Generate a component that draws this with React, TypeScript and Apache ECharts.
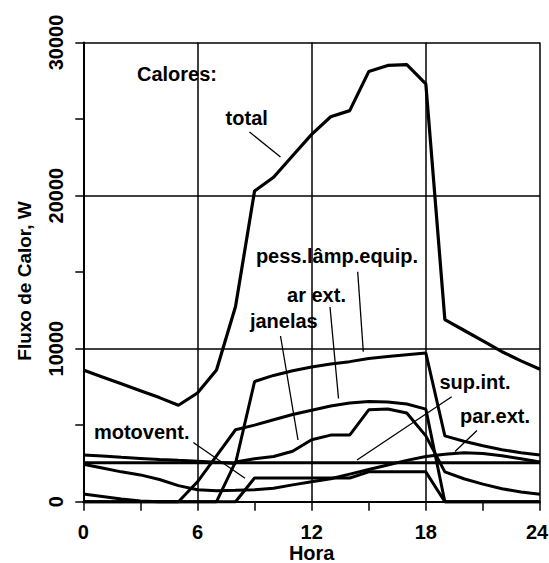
import React, { useEffect, useRef } from "react";
import * as echarts from "echarts";

// Hours of the day (x axis)
const hours = [0, 1, 2, 3, 4, 5, 6, 7, 8, 9, 10, 11, 12, 13, 14, 15, 16, 17, 18, 19, 20, 21, 22, 23, 24];

// Heat flux series, W
const total = [8600, 8150, 7700, 7250, 6800, 6300, 7100, 8600, 12750, 20300, 21200, 22600, 24000, 25150, 25550, 28100, 28500, 28550, 27300, 11900, 11200, 10500, 9800, 9200, 8650];
const pessLampEquip = [3050, 2980, 2900, 2830, 2760, 2700, 2650, 2580, 2500, 7850, 8250, 8550, 8800, 9000, 9150, 9350, 9480, 9600, 9720, 4300, 3950, 3650, 3400, 3200, 3050];
const arExt = [0, 0, 0, 0, 0, 0, 1300, 3000, 4700, 5000, 5350, 5700, 5980, 6250, 6450, 6550, 6520, 6380, 6050, 0, 0, 0, 0, 0, 0];
const janelas = [500, 340, 180, 40, 0, 0, 0, 0, 2600, 2800, 2950, 3300, 4050, 4350, 4350, 6000, 6050, 5800, 4300, 1950, 1500, 1150, 850, 630, 480];
const motovent = [0, 0, 0, 0, 0, 0, 0, 0, 0, 1550, 1550, 1550, 1550, 1550, 1550, 1950, 1950, 1950, 1950, 0, 0, 0, 0, 0, 0];
const supInt = [2550, 2550, 2550, 2550, 2550, 2550, 2550, 2550, 2550, 2550, 2550, 2550, 2550, 2550, 2550, 2550, 2550, 2550, 2550, 2550, 2550, 2550, 2550, 2550, 2550];
const parExt = [2450, 2200, 1950, 1750, 1450, 1050, 780, 720, 740, 780, 880, 1100, 1300, 1500, 1800, 2100, 2400, 2700, 2950, 3100, 3200, 3150, 3000, 2800, 2600];

const seriesNames = ["total", "pess.lâmp.equip.", "ar ext.", "janelas", "motovent.", "sup.int.", "par.ext."];
const seriesValues = [total, pessLampEquip, arExt, janelas, motovent, supInt, parExt];

const FONT = "'Liberation Sans', Arial, sans-serif";

export default function App() {
  const ref = useRef<HTMLDivElement>(null);

  useEffect(() => {
    if (!ref.current) return;
    const chart = echarts.init(ref.current, null, { renderer: "svg" });

    const lineSeries = seriesNames.map((name, k) => ({
      type: "line",
      name,
      data: hours.map((h, i) => [h, seriesValues[k][i]]),
      symbol: "none",
      clip: false,
      lineStyle: { color: "#000", width: k === 0 ? 3.2 : 3 },
      itemStyle: { color: "#000" },
      z: 3,
    }));

    const label = (text: string, x: number, y: number, size = 20, weight = "bold", rotation = 0) => ({
      type: "text",
      x,
      y,
      rotation,
      z: 20,
      style: {
        text,
        fontSize: size,
        fontFamily: FONT,
        fontWeight: weight,
        fill: "#000",
        align: "center",
        verticalAlign: "middle",
        textAlign: "center",
        textVerticalAlign: "middle",
      },
    });
    const pointer = (x1: number, y1: number, x2: number, y2: number) => ({
      type: "line",
      z: 20,
      shape: { x1, y1, x2, y2 },
      style: { stroke: "#000", lineWidth: 1.3 },
    });

    chart.setOption({
      animation: false,
      backgroundColor: "#fff",
      grid: {
        left: 83.3,
        top: 42.5,
        right: 9,
        bottom: 61.3,
        containLabel: false,
        outerBoundsMode: "none",
      },
      xAxis: {
        type: "value",
        min: 0,
        max: 24,
        interval: 6,
        axisLine: { show: true, lineStyle: { color: "#000", width: 2 } },
        axisTick: { show: true, inside: false, length: 9, lineStyle: { color: "#000", width: 1.5 } },
        minorTick: { show: true, splitNumber: 2, length: 9, lineStyle: { color: "#000", width: 1.5 } },
        splitLine: { show: true, lineStyle: { color: "#000", width: 1.5 } },
        axisLabel: {
          color: "#000",
          fontSize: 20,
          fontWeight: "bold",
          fontFamily: FONT,
          margin: 20,
          showMinLabel: true,
          showMaxLabel: true,
          formatter: (v: number) => (v === 24 ? "{m|24}" : String(v)),
          rich: {
            m: {
              color: "#000",
              fontSize: 20,
              fontWeight: "bold",
              fontFamily: FONT,
              padding: [0, 6, 0, 0],
            },
          },
        },
      },
      yAxis: {
        type: "value",
        min: 0,
        max: 30000,
        interval: 10000,
        axisLine: { show: true, lineStyle: { color: "#000", width: 2 } },
        axisTick: { show: true, inside: false, length: 8, lineStyle: { color: "#000", width: 1.5 } },
        minorTick: { show: true, splitNumber: 2, length: 8, lineStyle: { color: "#000", width: 1.5 } },
        splitLine: { show: true, lineStyle: { color: "#000", width: 1.5 } },
        axisLabel: {
          color: "#000",
          fontSize: 20,
          fontWeight: "bold",
          fontFamily: FONT,
          rotate: 90,
          margin: 17,
          align: "center",
          verticalAlign: "bottom",
          showMinLabel: true,
          showMaxLabel: true,
          formatter: (v: number) => String(v),
        },
      },
      series: lineSeries,
      graphic: [
        label("Fluxo de Calor, W", 24, 281, 19, "bold", Math.PI / 2),
        label("Hora", 311.7, 553, 20, "bold"),
        label("Calores:", 177, 74.3),
        label("total", 246.7, 117.6),
        label("pess.lâmp.equip.", 337, 255.5),
        label("ar ext.", 316.5, 294.5),
        label("janelas", 283.8, 320.5),
        label("sup.int.", 475, 381.5),
        label("par.ext.", 495, 416.3),
        label("motovent.", 141.7, 432),
        pointer(249.5, 132, 280.5, 157),
        pointer(357.7, 271.7, 363.3, 351.7),
        pointer(330, 307, 338.5, 398.5),
        pointer(280.5, 336, 298, 440),
        pointer(451.7, 396.7, 357, 460),
        pointer(477, 430.5, 455, 451.5),
        pointer(193.3, 442.5, 245, 478.3),
      ],
    });

    return () => chart.dispose();
  }, []);

  return (
    <div
      ref={ref}
      style={{ position: "absolute", left: 0, top: 0, width: 549, height: 563, background: "#fff", overflow: "hidden" }}
    />
  );
}
